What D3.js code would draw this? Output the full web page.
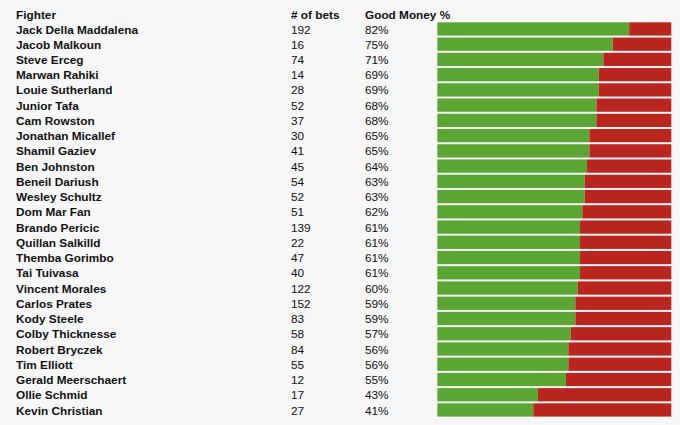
<!DOCTYPE html>
<html><head><meta charset="utf-8">
<script src="https://cdn.jsdelivr.net/npm/d3@7"></script>
<style>
html,body{margin:0;padding:0;background:#f7f7f8;}
text{font-family:"Liberation Sans",Arial,Helvetica,sans-serif;}
</style></head>
<body><svg id="c" width="680" height="425"></svg>
<script>
const fighters = ["Jack Della Maddalena","Jacob Malkoun","Steve Erceg","Marwan Rahiki","Louie Sutherland","Junior Tafa","Cam Rowston","Jonathan Micallef","Shamil Gaziev","Ben Johnston","Beneil Dariush","Wesley Schultz","Dom Mar Fan","Brando Pericic","Quillan Salkilld","Themba Gorimbo","Tai Tuivasa","Vincent Morales","Carlos Prates","Kody Steele","Colby Thicknesse","Robert Bryczek","Tim Elliott","Gerald Meerschaert","Ollie Schmid","Kevin Christian"];
const bets = [192,16,74,14,28,52,37,30,41,45,54,52,51,139,22,47,40,122,152,83,58,84,55,12,17,27];
const goodPct = [82,75,71,69,69,68,68,65,65,64,63,63,62,61,61,61,61,60,59,59,57,56,56,55,43,41];
const headers = ["Fighter","# of bets","Good Money %"];

const svg = d3.select("#c");
const y = d3.scaleBand().domain(fighters).range([22.3, 416.6]).paddingInner(0.13).paddingOuter(0.0);
const x = d3.scaleLinear().domain([0,100]).range([437.3, 671.3]);
const colX = [16, 291, 365];
const fs = 11.8;

svg.selectAll("text.h").data(headers).join("text")
  .attr("class","h").attr("x",(d,i)=>colX[i]).attr("y",18.8)
  .attr("font-size",fs).attr("font-weight","bold").attr("fill","#111").text(d=>d);

const rows = svg.selectAll("g.row").data(fighters).join("g").attr("class","row");
const cy = d => y(d) + y.bandwidth()/2;
rows.append("text").attr("x",colX[0]).attr("y",d=>cy(d)+4.6)
  .attr("font-size",fs).attr("font-weight","bold").attr("fill","#111").text(d=>d);
rows.append("text").attr("x",colX[1]).attr("y",d=>cy(d)+4.6)
  .attr("font-size",fs).attr("fill","#111").text((d,i)=>bets[i]);
rows.append("text").attr("x",colX[2]).attr("y",d=>cy(d)+4.6)
  .attr("font-size",fs).attr("fill","#111").text((d,i)=>goodPct[i]+"%");
rows.append("rect").attr("x",x(0)).attr("y",d=>y(d)).attr("height",y.bandwidth())
  .attr("width",(d,i)=>x(goodPct[i])-x(0)).attr("fill","#5ba633");
rows.append("rect").attr("x",(d,i)=>x(goodPct[i])).attr("y",d=>y(d)).attr("height",y.bandwidth())
  .attr("width",(d,i)=>x(100)-x(goodPct[i])).attr("fill","#b8261f");
</script></body></html>
